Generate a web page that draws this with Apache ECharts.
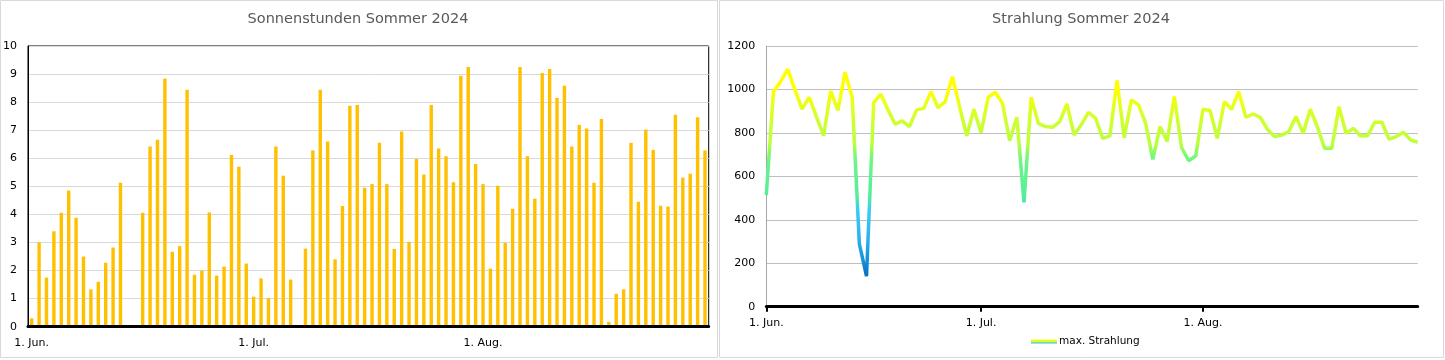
<!DOCTYPE html>
<html><head><meta charset="utf-8">
<script src="https://cdn.jsdelivr.net/npm/echarts@6/dist/echarts.min.js"></script>
<style>html,body{margin:0;padding:0;background:#fff}#c{width:1445px;height:360px}</style>
</head><body><div id="c"></div>
<script>
// ---- data ----
const monthNames = ['Jun.', 'Jul.', 'Aug.'];
const monthLengths = [30, 31, 31];
const tickLabels = ['1. Jun.', '1. Jul.', '1. Aug.'];

const sunHours = [
  // Juni
  0.3, 3.0, 1.75, 3.4, 4.06, 4.85, 3.88, 2.5, 1.33, 1.6, 2.28, 2.82, 5.13, 0, 0,
  4.06, 6.42, 6.66, 8.84, 2.67, 2.87, 8.44, 1.85, 2.0, 4.07, 1.82, 2.14, 6.12, 5.7, 2.25,
  // Juli
  1.07, 1.72, 1.02, 6.42, 5.38, 1.68, 0.04, 2.78, 6.28, 8.44, 6.6, 2.4, 4.3, 7.87, 7.9, 4.95,
  5.08, 6.55, 5.08, 2.77, 6.95, 3.02, 5.97, 5.42, 7.9, 6.35, 6.07, 5.15, 8.94, 9.25, 5.8,
  // August
  5.08, 2.07, 5.02, 2.99, 4.2, 9.25, 6.07, 4.56, 9.04, 9.18, 8.15, 8.58, 6.42, 7.19, 7.06, 5.13,
  7.4, 0.17, 1.17, 1.33, 6.55, 4.45, 7.02, 6.3, 4.31, 4.28, 7.55, 5.31, 5.45, 7.46, 6.28
];

const radiation = [
  // Juni
  514, 990, 1036, 1093, 998, 909, 964, 875, 787, 993, 903, 1079, 964, 289, 141,
  939, 978, 906, 840, 855, 829, 906, 913, 990, 916, 944, 1059, 921, 787, 909,
  // Juli
  801, 964, 987, 936, 764, 872, 480, 964, 844, 829, 826, 852, 933, 790, 837, 895,
  867, 775, 786, 1041, 778, 952, 929, 844, 678, 829, 760, 967, 734, 672, 695,
  // August
  909, 903, 775, 944, 909, 990, 872, 887, 872, 817, 783, 790, 806, 875, 798, 909,
  826, 729, 729, 921, 798, 821, 787, 787, 849, 849, 771, 783, 803, 768, 757
];

// colour scale for radiation (values 0,50,...,1200)
const radiationColors = [
  '#005a9e', '#0062aa', '#0068b8', '#0b72c4', '#148ad6', '#1c9de2', '#26aeea', '#2ebaf0',
  '#36c4f4', '#3cccf6', '#52ec9e', '#5af096', '#62f290', '#66f48c', '#80f870', '#bcff3c',
  '#c4ff38', '#ceff30', '#dcff26', '#eeff14', '#ffff00', '#ffff00', '#ffff00', '#ffff00', '#ffff00'
];

// category labels
const days = [];
monthNames.forEach((m, mi) => { for (let d = 1; d <= monthLengths[mi]; d++) days.push(d + '. ' + m); });
const isTick = (i) => tickLabels.includes(days[i]);

const FONT = 'DejaVu Sans';
const chart = echarts.init(document.getElementById('c'));
chart.setOption({
  animation: false,
  textStyle: { fontFamily: FONT },
  graphic: [
    { type: 'rect', silent: true, z: -10, shape: { x: 0.5, y: 0.5, width: 717, height: 357 },
      style: { fill: 'none', stroke: '#d9d9d9', lineWidth: 1 } },
    { type: 'rect', silent: true, z: -10, shape: { x: 719.5, y: 0.5, width: 724, height: 357 },
      style: { fill: 'none', stroke: '#d9d9d9', lineWidth: 1 } }
  ],
  title: [
    { text: 'Sonnenstunden Sommer 2024', left: 358, top: 12, padding: 0, textAlign: 'center',
      textStyle: { fontFamily: FONT, fontSize: 14.5, fontWeight: 'normal', color: '#595959' } },
    { text: 'Strahlung Sommer 2024', left: 1081, top: 12, padding: 0, textAlign: 'center',
      textStyle: { fontFamily: FONT, fontSize: 14.5, fontWeight: 'normal', color: '#595959' } }
  ],
  legend: {
    left: 1031, top: 336, padding: 0, itemWidth: 26, itemHeight: 4, itemGap: 4, icon: 'rect',
    textStyle: { fontFamily: FONT, fontSize: 10.5, color: '#000', padding: [0, 0, 0, -3] },
    data: [{ name: 'max. Strahlung', itemStyle: {
      color: new echarts.graphic.LinearGradient(0, 0, 0, 1, [
        { offset: 0, color: '#ffff00' }, { offset: 0.5, color: '#c8ff38' }, { offset: 1, color: '#2ebaf0' }]) } }]
  },
  visualMap: {
    show: false, seriesIndex: 1, dimension: 1, min: 0, max: 1200,
    inRange: { color: radiationColors }
  },
  grid: [
    { left: 26.3, right: 1445 - 708.7, top: 46, bottom: 360 - 326.7, show: true, borderColor: '#000', borderWidth: 1 },
    { left: 766.3, right: 1445 - 1417.7, top: 46, bottom: 360 - 306.7 }
  ],
  xAxis: [
    { gridIndex: 0, type: 'category', data: days, boundaryGap: true, z: 5,
      axisLine: { lineStyle: { color: '#000', width: 3 } },
      axisTick: { interval: (i) => isTick(i), length: 5, lineStyle: { color: '#000', width: 2 } },
      axisLabel: { interval: (i) => isTick(i), margin: 11, color: '#000', fontSize: 11, fontFamily: FONT } },
    { gridIndex: 1, type: 'category', data: days, boundaryGap: false, z: 5,
      axisLine: { lineStyle: { color: '#000', width: 3 } },
      axisTick: { interval: (i) => isTick(i), length: 5, lineStyle: { color: '#000', width: 2 } },
      axisLabel: { interval: (i) => isTick(i), margin: 11, color: '#000', fontSize: 11, fontFamily: FONT } }
  ],
  yAxis: [
    { gridIndex: 0, type: 'value', min: 0, max: 10, interval: 1,
      axisLine: { show: true, lineStyle: { color: '#000', width: 1 } }, axisTick: { show: false },
      splitLine: { lineStyle: { color: '#d9d9d9', width: 1 } },
      axisLabel: { margin: 11, color: '#000', fontSize: 11, fontFamily: FONT } },
    { gridIndex: 1, type: 'value', min: 0, max: 1200, interval: 200,
      axisLine: { show: true, lineStyle: { color: '#a6a6a6', width: 1 } }, axisTick: { show: false },
      splitLine: { lineStyle: { color: '#bfbfbf', width: 1 } },
      axisLabel: { margin: 11, color: '#000', fontSize: 11, fontFamily: FONT, formatter: (v) => String(v) } }
  ],
  series: [
    { name: 'Sonnenstunden', type: 'bar', xAxisIndex: 0, yAxisIndex: 0, data: sunHours,
      barWidth: '46%', itemStyle: { color: '#ffc000' } },
    { name: 'max. Strahlung', type: 'line', xAxisIndex: 1, yAxisIndex: 1, data: radiation,
      showSymbol: false, symbol: 'none', lineStyle: { width: 3.5 } }
  ]
});
</script>
</body></html>
